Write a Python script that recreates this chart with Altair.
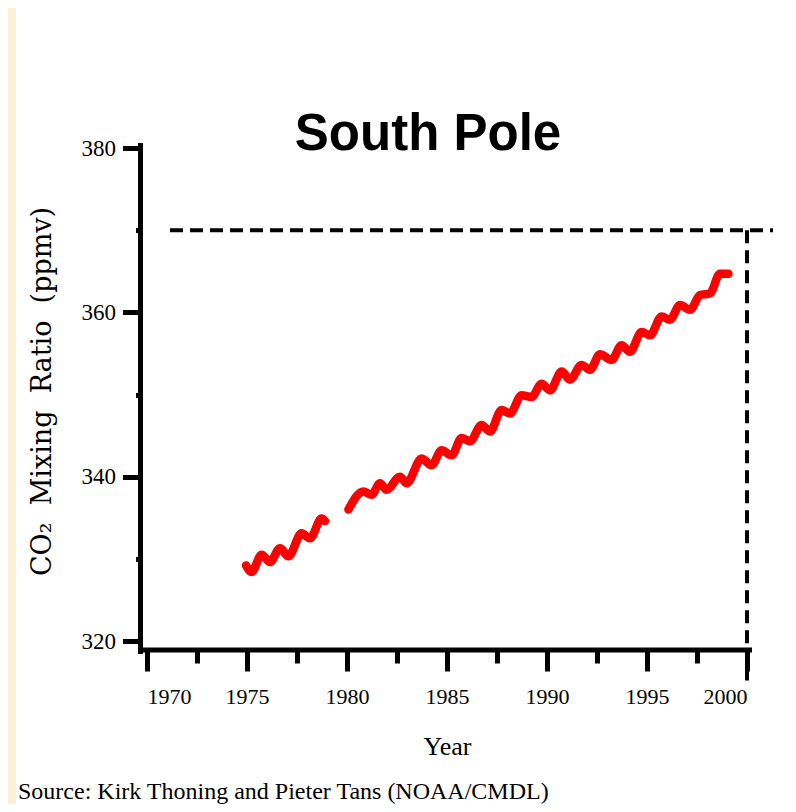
import altair as alt
import pandas as pd

# ---- data ----
years_a = [1974.95, 1975.23, 1975.73, 1976.15, 1976.65, 1977.07, 1977.73, 1978.15, 1978.73, 1978.9]
ppm_a = [329.2, 328.4, 330.5, 329.6, 331.3, 330.3, 333.1, 332.5, 334.9, 334.6]

years_b = [1980.07, 1980.82, 1981.23, 1981.65, 1981.98, 1982.65, 1982.98, 1983.73, 1984.23,
           1984.73, 1985.23, 1985.73, 1986.15, 1986.73, 1987.15, 1987.73, 1988.15, 1988.73,
           1989.23, 1989.73, 1990.15, 1990.73, 1991.15, 1991.73, 1992.15, 1992.65, 1993.23,
           1993.73, 1994.15, 1994.73, 1995.15, 1995.73, 1996.15, 1996.65, 1997.15, 1997.65,
           1998.15, 1998.65, 1999.07]
ppm_b = [336.0, 338.2, 337.8, 339.2, 338.4, 340.0, 339.2, 342.2, 341.4,
         343.2, 342.6, 344.7, 344.3, 346.3, 345.5, 348.1, 347.7, 349.9,
         349.7, 351.3, 350.5, 352.8, 351.8, 353.6, 353.0, 354.9, 354.2,
         356.0, 355.2, 357.6, 357.2, 359.5, 359.1, 360.9, 360.3, 362.1,
         362.3, 364.7, 364.7]

ref_level = [370]
ref_x_start = [1971.15]
ref_x_end = [2001.3]
ref_year = [2000]
ref_y_low = [315.2]

x_tick_values = [1970, 1972.5, 1975, 1977.5, 1980, 1982.5, 1985, 1987.5, 1990, 1992.5, 1995, 1997.5, 2000]
y_tick_values = [320, 330, 340, 350, 360, 370, 380]

title_text = "South Pole"
y_title = "CO\u2082\u00a0\u00a0Mixing\u00a0\u00a0Ratio\u00a0\u00a0(ppmv)"
x_title = "Year"
source_text = "Source: Kirk Thoning and Pieter Tans (NOAA/CMDL)"

# ---- build ----
df = pd.DataFrame({
    "year": years_a + years_b,
    "ppm": ppm_a + ppm_b,
    "segment": ["a"] * len(years_a) + ["b"] * len(years_b),
})
one = pd.DataFrame({"k": [0]})

SERIF = "Liberation Serif"
xscale = alt.Scale(domain=[1970, 2000], nice=False, zero=False)
yscale = alt.Scale(domain=[320, 380], nice=False, zero=False)

x_axis = alt.Axis(
    values=x_tick_values, format="d",
    labelExpr="datum.value % 5 === 0 ? datum.label : ''",
    domain=False, grid=False, offset=9, zindex=1,
    tickColor="black", tickWidth=5,
    tickSize={"condition": {"test": "datum.value % 5 !== 0", "value": 13}, "value": 21},
    labelFont=SERIF, labelFontSize=22, labelColor="black", labelPadding=15,
    title=x_title, titleFont=SERIF, titleFontSize=26, titleFontWeight="normal",
    titleColor="black", titleX=300, titleY=104, titleBaseline="alphabetic", titleAlign="center",
)
y_axis = alt.Axis(
    values=y_tick_values, format="d",
    labelExpr="datum.value % 20 === 0 ? datum.label : ''",
    domain=False, grid=False, offset=6.5, zindex=1,
    tickColor="black", tickWidth=5,
    tickSize={"condition": {"test": "datum.value % 20 !== 0", "value": 5}, "value": 18},
    labelFont=SERIF, labelFontSize=23, labelColor="black", labelPadding=7,
    title=y_title, titleFont="DejaVu Serif", titleFontSize=27, titleFontWeight="normal",
    titleColor="black", titleAngle=270, titleX=-90.5, titleY=243,
    titleAlign="center", titleBaseline="alphabetic",
)

panel = alt.Chart(one).mark_rect(color="white").encode(
    x=alt.value(-131), x2=alt.value(641), y=alt.value(-140), y2=alt.value(656)
)

y_axis_line = alt.Chart(one).mark_rule(color="black", strokeWidth=5).encode(
    x=alt.value(-6.5), y=alt.value(-5), y2=alt.value(506)
)
x_axis_line = alt.Chart(one).mark_rule(color="black", strokeWidth=5).encode(
    x=alt.value(-8), x2=alt.value(605), y=alt.value(502)
)

line = alt.Chart(df).mark_line(
    color="#ff0000", strokeWidth=8.5, strokeCap="round", strokeJoin="round", interpolate="monotone"
).encode(
    x=alt.X("year:Q", scale=xscale, axis=x_axis),
    y=alt.Y("ppm:Q", scale=yscale, axis=y_axis),
    detail="segment:N",
)

hdash = alt.Chart(pd.DataFrame({"x1": ref_x_start, "x2": ref_x_end, "lvl": ref_level})).mark_rule(
    color="black", strokeWidth=4, strokeDash=[13, 7]
).encode(
    x=alt.X("x1:Q", scale=xscale, axis=x_axis),
    x2="x2:Q",
    y=alt.Y("lvl:Q", scale=yscale, axis=y_axis),
)
vdash = alt.Chart(pd.DataFrame({"yr": ref_year, "top": ref_level, "bottom": ref_y_low})).mark_rule(
    color="black", strokeWidth=4, strokeDash=[13, 7]
).encode(
    x=alt.X("yr:Q", scale=xscale, axis=x_axis),
    y=alt.Y("top:Q", scale=yscale, axis=y_axis),
    y2="bottom:Q",
)

title_mark = alt.Chart(one).mark_text(
    text=title_text, font="Liberation Sans", fontSize=51, fontWeight="bold",
    color="black", align="center", baseline="alphabetic"
).encode(x=alt.value(281), y=alt.value(2))

source_mark = alt.Chart(one).mark_text(
    text=source_text, font=SERIF, fontSize=24, color="black", align="left", baseline="alphabetic"
).encode(x=alt.value(-129), y=alt.value(651))

chart = alt.layer(
    panel, line, hdash, vdash, y_axis_line, x_axis_line, title_mark, source_mark
).properties(
    width=600, height=493,
    autosize=alt.AutoSizeParams(type="none"),
    padding={"left": 139, "top": 140, "right": 41, "bottom": 163},
    background="#FBEFD5",
).configure_view(stroke=None)

chart.save("out.html", embed_options={"renderer": "svg", "actions": False})
